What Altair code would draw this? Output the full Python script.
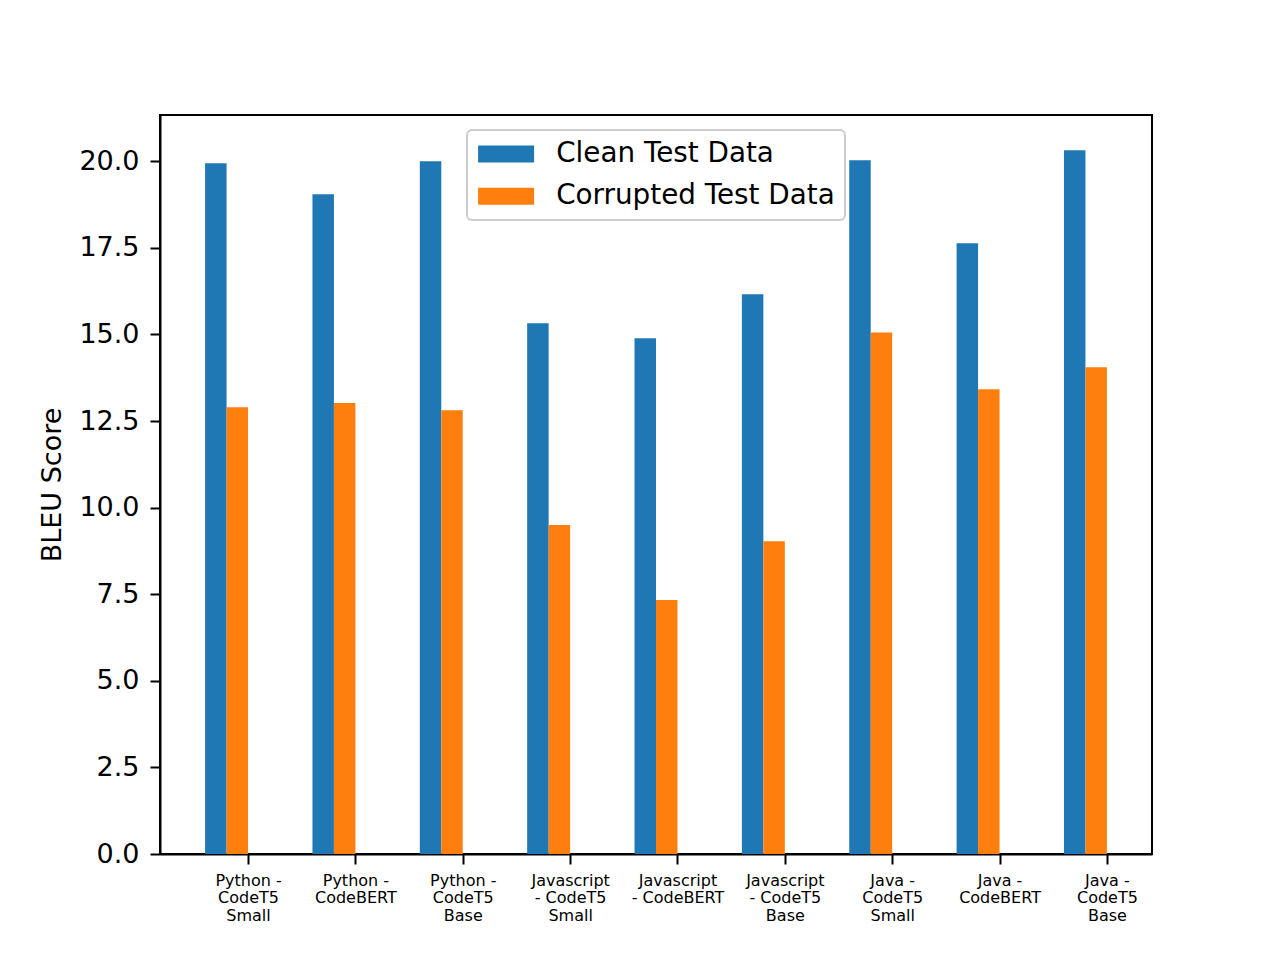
import json
import altair as alt
import pandas as pd

categories = [
    "Python -\nCodeT5\nSmall",
    "Python -\nCodeBERT",
    "Python -\nCodeT5\nBase",
    "Javascript\n- CodeT5\nSmall",
    "Javascript\n- CodeBERT",
    "Javascript\n- CodeT5\nBase",
    "Java -\nCodeT5\nSmall",
    "Java -\nCodeBERT",
    "Java -\nCodeT5\nBase",
]
clean = [19.94, 19.05, 20.00, 15.32, 14.89, 16.16, 20.03, 17.63, 20.32]
corrupted = [12.90, 13.02, 12.81, 9.50, 7.33, 9.03, 15.06, 13.42, 14.05]
series_names = ["Clean Test Data", "Corrupted Test Data"]
colors = ["#1f77b4", "#ff7f0e"]
y_ticks = [0, 2.5, 5, 7.5, 10, 12.5, 15, 17.5, 20]

BAR_W = 0.2
rows = []
for i, cat in enumerate(categories):
    for s, (name, vals) in enumerate(zip(series_names, [clean, corrupted])):
        start = i - 0.4 + s * BAR_W
        rows.append({"pos": i, "series": name, "value": vals[i],
                     "x0": start, "x1": start + BAR_W})
df = pd.DataFrame(rows)

label_lookup = json.dumps([c.split("\n") for c in categories])
FONT = "DejaVu Sans"

ymax = max(clean + corrupted) * 1.05

chart = alt.Chart(df).mark_rect().encode(
    x=alt.X("x0:Q",
            scale=alt.Scale(domain=[-0.82, 8.42], nice=False, zero=False),
            axis=alt.Axis(values=list(range(len(categories))),
                          labelExpr=label_lookup + "[datum.value]",
                          title=None, grid=False, labelFontSize=16,
                          labelLineHeight=17.5, labelPadding=8,
                          labelBaseline="top", labelAlign="center")),
    x2="x1:Q",
    y=alt.Y("value:Q",
            scale=alt.Scale(domain=[0, ymax], nice=False),
            axis=alt.Axis(values=y_ticks, format=".1f", title="BLEU Score",
                          grid=False, labelFontSize=27, titleFontSize=27,
                          titleFontWeight="normal", labelPadding=11,
                          titlePadding=12)),
    y2=alt.datum(0),
    fill=alt.Fill("series:N",
                  scale=alt.Scale(domain=series_names, range=colors),
                  legend=alt.Legend(title=None, orient="none", legendX=307,
                                    legendY=15)),
).properties(
    width=992, height=739,
    autosize=alt.AutoSizeParams(type="none"),
    padding={"left": 152, "top": 107, "right": 120, "bottom": 98},
).configure(
    font=FONT,
).configure_view(
    stroke="black", strokeWidth=2,
).configure_axis(
    domain=True, domainColor="black", domainWidth=2,
    tickColor="black", tickWidth=2, tickSize=10,
    labelColor="black", titleColor="black", labelFont=FONT, titleFont=FONT,
    zindex=1,
).configure_legend(
    symbolType="M-0.928,-0.612H3.101V0.612H-0.928Z", symbolSize=772.84,
    symbolStrokeWidth=0,
    labelFontSize=27.8, labelFont=FONT, labelColor="black", labelOffset=51.2,
    labelLimit=0,
    fillColor="rgba(255,255,255,0.8)", strokeColor="#cccccc", strokeWidth=2,
    cornerRadius=5, padding=10, rowPadding=14.2,
)

chart.save("out.html", embed_options={"renderer": "svg", "actions": False})
